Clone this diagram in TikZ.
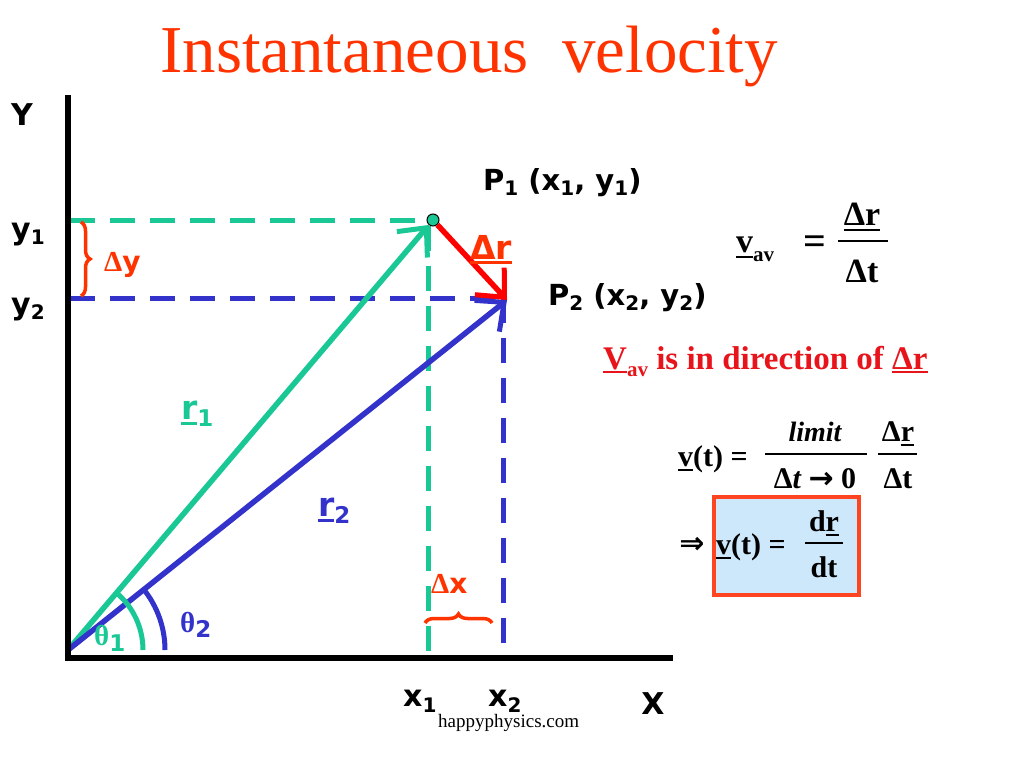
\documentclass[tikz,border=0pt]{standalone}
\usepackage{fontspec}
\setmainfont{Liberation Serif}
\newfontfamily\vfont{DejaVu Sans}
\usetikzlibrary{arrows.meta,decorations.pathreplacing}
\definecolor{tgreen}{RGB}{26,200,150}
\definecolor{tblue}{RGB}{51,51,204}
\definecolor{tred}{RGB}{255,0,0}
\definecolor{ttext}{RGB}{232,20,27}
\definecolor{torange}{RGB}{255,51,0}
\definecolor{tboxfill}{RGB}{204,232,250}
\definecolor{tboxline}{RGB}{255,68,34}
\newcommand{\fs}[1]{\fontsize{#1}{#1}\selectfont}
\newcommand{\mysub}[2]{\raisebox{-#2pt}{\fs{20}#1}}
\newcommand{\mybigsub}[2]{\raisebox{-#2pt}{\fs{23}#1}}
\newcommand{\myul}[2]{\setbox0\hbox{#1}\rlap{\rule[-#2pt]{\wd0}{2pt}}\box0}
\newcommand{\mythickul}[2]{\setbox0\hbox{#1}\rlap{\rule[-#2pt]{\wd0}{3pt}}\box0}
\begin{document}
\begin{tikzpicture}[x=1pt,y=-1pt,
  axis/.style={line width=5.5pt,black},
  vec/.style={line width=5.5pt,-{Straight Barb[length=22pt,width=40pt,line width=5pt]}},
  dsh/.style={line width=5pt,dash pattern=on 25pt off 15pt},
  lbl/.style={font=\vfont\bfseries\fs{30},inner sep=0},
  eq/.style={font=\bfseries\fs{30},inner sep=0},
  bar/.style={line width=1.6pt,black},
  brc/.style={torange,line width=3.5pt,decorate,decoration={brace,amplitude=9pt}},
  arcst/.style={line width=5pt}]
\useasboundingbox (0,0) rectangle (1024,768);
% title
\node[anchor=base west,inner sep=0,text=torange,font=\fs{67}] (title) at (160,72) {Instantaneous\ \ velocity};
% points
\coordinate (O) at (68,650);
\coordinate (P2) at (507,300);
% dashed guide lines
\coordinate (gy) at (70,220);
\coordinate (gx) at (428,656);
\coordinate (gx0) at (428,226);
\coordinate (by) at (70,298);
\coordinate (bx) at (503,656);
\coordinate (bx0) at (503,298);
\draw[dsh,tgreen] (gy) -- (428,220);
\draw[dsh,tgreen] (gx0) -- (gx);
\draw[dsh,tblue] (by) -- (bx0);
\draw[dsh,tblue] (bx0) -- (bx);
% point P1
\node[circle,fill=tgreen,draw=black,line width=1pt,inner sep=0,minimum size=12pt] (P1) at (433,220) {};
% vectors
\draw[vec,tgreen] (O) -- (P1);
\draw[vec,tblue] (O) -- (P2);
\draw[vec,tred] (P1) -- (P2);
% angle arcs
\draw[arcst,tgreen] (143,650) arc[start angle=0,end angle=49.7,radius=75pt];
\draw[arcst,tblue] (165,650) arc[start angle=0,end angle=38.9,radius=97pt];
% axes
\coordinate (ytop) at (68,95);
\coordinate (xend) at (673,658);
\draw[axis] (ytop) -- (68,658) -- (xend);
% braces
\draw[brc] (81,222) -- (81,296);
\draw[brc] (425,623) -- (492,623);
% axis labels
\node[lbl,anchor=base] (Ylab) at (22,125) {Y};
\node[lbl,anchor=base west] (y1lab) at (11,239) {y\mysub{1}{5}};
\node[lbl,anchor=base west] (y2lab) at (11,314) {y\mysub{2}{5}};
\node[lbl,anchor=base west] (x1lab) at (403,706) {x\mysub{1}{6}};
\node[lbl,anchor=base west] (x2lab) at (488,706) {x\mysub{2}{6}};
\node[lbl,anchor=base] (Xlab) at (653,714) {X};
\node[anchor=base west,inner sep=0,font=\fs{19}] (site) at (438,727) {happyphysics.com};
% point labels
\node[lbl,anchor=base west,font=\vfont\bfseries\fs{29}] (P1lab) at (483,190) {P\mysub{1}{5} (x\mysub{1}{5}, y\mysub{1}{5})};
\node[lbl,anchor=base west,font=\vfont\bfseries\fs{29}] (P2lab) at (548,305) {P\mysub{2}{5} (x\mysub{2}{5}, y\mysub{2}{5})};
% vector labels
\node[lbl,anchor=base west,text=torange,font=\vfont\bfseries\fs{33}] (drlab) at (470,259) {\mythickul{Δr}{5}};
\node[lbl,anchor=base west,text=tgreen,font=\vfont\bfseries\fs{33}] (r1lab) at (181,419) {\mythickul{r}{6}\mybigsub{1}{7}};
\node[lbl,anchor=base west,text=tblue,font=\vfont\bfseries\fs{33}] (r2lab) at (318,516) {\mythickul{r}{6}\mybigsub{2}{7}};
\node[lbl,anchor=base west,text=torange,font=\vfont\bfseries\fs{28}] (dylab) at (104,271) {{\normalfont\bfseries\fs{29}Δ}y};
\node[lbl,anchor=base west,text=torange,font=\vfont\bfseries\fs{28}] (dxlab) at (431,593) {{\normalfont\bfseries\fs{29}Δ}x};
\node[lbl,anchor=base west,text=tgreen] (t1lab) at (94,645) {{\normalfont\bfseries\fs{29}θ}\mybigsub{1}{6}};
\node[lbl,anchor=base west,text=tblue] (t2lab) at (180,632) {{\normalfont\bfseries\fs{29}θ}\mybigsub{2}{5}};
% average velocity formula
\node[eq,anchor=base west,font=\bfseries\fs{34}] (vav) at (736,252) {\myul{v}{6}\raisebox{-9pt}{\fs{21}av}};
\node[eq,anchor=base,font=\bfseries\fs{40}] (eq1) at (815,254) {=};
\node[eq,anchor=base,font=\bfseries\fs{34}] (n1) at (862,225) {\myul{Δr}{6}};
\draw[bar] (838,241) -- (888,241);
\node[eq,anchor=base,font=\bfseries\fs{34}] (d1) at (862,282) {Δt};
% direction statement
\node[eq,anchor=base west,text=ttext,font=\bfseries\fs{33}] (dir) at (603,369) {\myul{V}{4}\raisebox{-7pt}{\fs{21}av} is in direction of \myul{Δr}{4}};
% limit formula
\node[eq,anchor=base west] (vt) at (678,466) {\myul{v}{5}(t) =};
\node[eq,anchor=base,font=\bfseries\itshape\fs{28}] (lim) at (815,441) {limit};
\node[eq,anchor=base] (lim0) at (815,488) {Δ{\itshape t} {\vfont\bfseries →} 0};
\draw[bar] (765,454) -- (867,454);
\node[eq,anchor=base] (n2) at (898,441) {Δ\myul{r}{5}};
\draw[bar] (878,454) -- (917,454);
\node[eq,anchor=base] (d2) at (898,488) {Δt};
% boxed result
\node[draw=tboxline,line width=4pt,fill=tboxfill,minimum width=145pt,minimum height=98pt,inner sep=0] (box) at (786,546) {};
\node[eq,anchor=base,font=\vfont\bfseries\fs{30}] (impl) at (692,553) {⇒};
\node[eq,anchor=base west] (vt2) at (716,554) {\myul{v}{5}(t) =};
\node[eq,anchor=base] (n3) at (824,531) {d\myul{r}{5}};
\draw[bar] (805,543) -- (843,543);
\node[eq,anchor=base] (d3) at (824,577) {dt};
\end{tikzpicture}
\end{document}
